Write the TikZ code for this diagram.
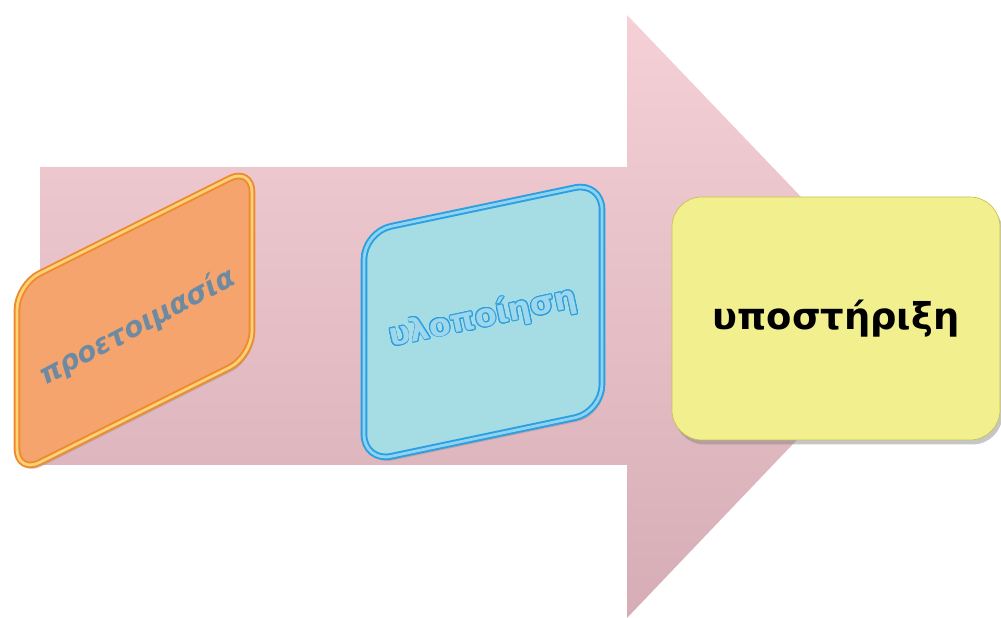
\documentclass[tikz,border=0pt]{standalone}
\usepackage{fontspec}
\setmainfont{DejaVu Sans}
\usepackage{contour}
\contourlength{0.5pt}
\usetikzlibrary{
  positioning,
  shadows
}
\definecolor{arTop}{HTML}{F5D0D6}
\definecolor{arBot}{HTML}{D6ADB6}
\definecolor{cOrange}{HTML}{EF8A2E}
\definecolor{cOrangeH}{HTML}{F9D27A}
\definecolor{cOrangeL}{HTML}{F4A46C}
\definecolor{cOrangeT}{HTML}{6E8AA3}
\definecolor{cBlue}{HTML}{2B9FE0}
\definecolor{cBlueH}{HTML}{8ED4F2}
\definecolor{cBlueL}{HTML}{A6DCE4}
\definecolor{cBlueT}{HTML}{9ED6EC}
\definecolor{cYellow}{HTML}{C8C44E}
\definecolor{cYellowL}{HTML}{F2EF8F}

\begin{document}
\begin{tikzpicture}[
  every node/.style={align=center, inner sep=0pt},
  card/.style={
    rectangle, line width=1.1pt, double distance=1.6pt,
    drop shadow={opacity=0.35, shadow xshift=0.04cm, shadow yshift=-0.08cm}
  },
  prep/.style={
    card, rounded corners=0.5cm,
    draw=cOrange, double=cOrangeH, fill=cOrangeL,
    minimum width=4.7cm, minimum height=3.78cm, yslant=0.5
  },
  impl/.style={
    card, rounded corners=0.55cm,
    draw=cBlue, double=cBlueH, fill=cBlueL,
    minimum width=4.76cm, minimum height=4.6cm, yslant=0.21
  },
  supp/.style={
    rectangle, rounded corners=0.6cm,
    draw=cYellow, thin, fill=cYellowL,
    drop shadow={opacity=0.45, shadow xshift=0.05cm, shadow yshift=-0.09cm},
    minimum width=6.56cm, minimum height=4.86cm
  },
  lbl/.style={font=\fontsize{18}{22}\selectfont\bfseries}
]
 \useasboundingbox (0,0) rectangle (20.02,12.36);

 % Big pink arrow in the background
 \shade[top color=arTop, bottom color=arBot]
  (0.8,9.02) -- (12.54,9.02) -- (12.54,12.06) -- (18.3,6.04)
  -- (12.54,0) -- (12.54,3.06) -- (0.8,3.06) -- cycle;

 % Three stages along the arrow
 \node[prep] (p) at (2.69,5.95) {};
 \node[lbl, text=cOrangeT, font=\fontsize{16}{20}\selectfont\bfseries\itshape,
  rotate=28] (pl) at (2.75,5.82) {προετοιμασία};

 \node[impl] (u) at (9.66,5.92) {};
 \node[lbl, text=cBlueT, rotate=12] (ul) at (9.66,6.0)
  {\contour{cBlue}{υλοποίηση}};

 \node[supp] (s) at (16.72,5.99) {};
 \node[lbl, font=\fontsize{21}{25}\selectfont\bfseries] (sl) at (s)
  {υποστήριξη};
\end{tikzpicture}
\end{document}
